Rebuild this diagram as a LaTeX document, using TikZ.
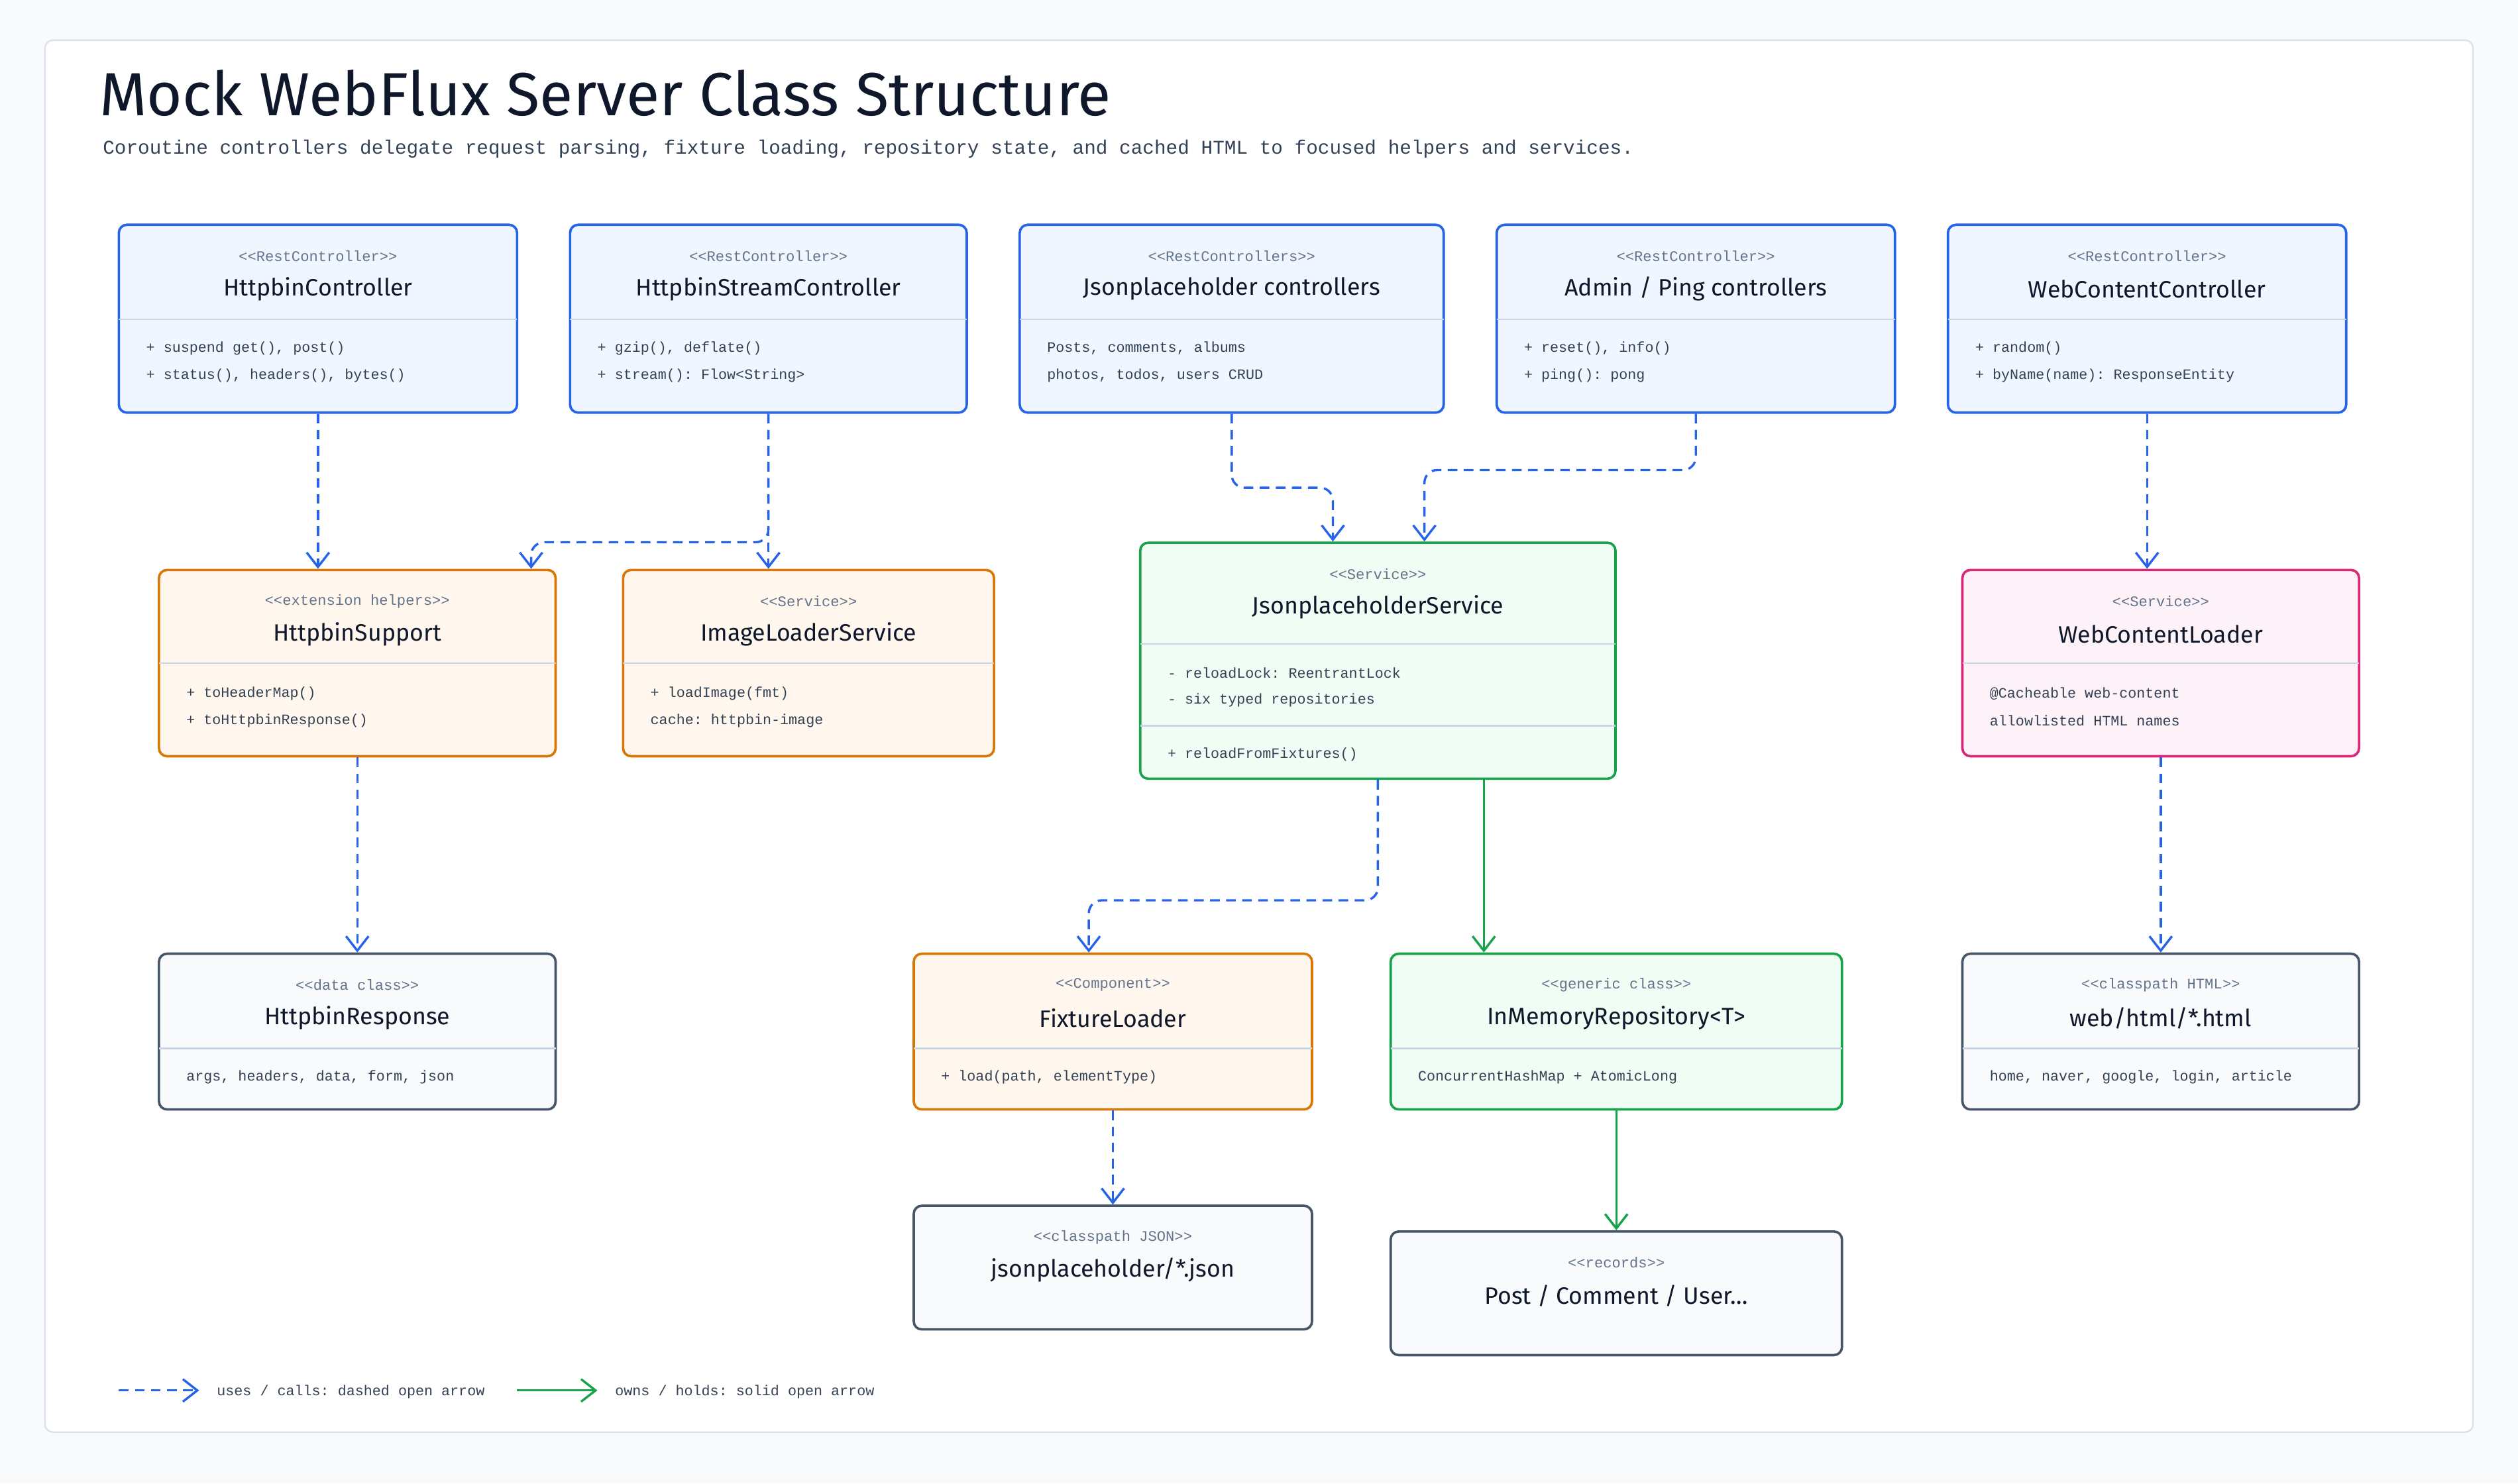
\documentclass[tikz,border=0pt]{standalone}
\usepackage{fontspec}
\setmainfont{Fira Sans}
\setmonofont{Liberation Mono}
\usetikzlibrary{arrows.meta,positioning}

\definecolor{ink}{HTML}{0F172A}
\definecolor{muted}{HTML}{64748B}
\definecolor{memb}{HTML}{334155}
\definecolor{rule}{HTML}{CBD5E1}
\definecolor{blueline}{HTML}{2563EB}\definecolor{bluefill}{HTML}{EFF6FF}
\definecolor{orangeline}{HTML}{D97706}\definecolor{orangefill}{HTML}{FFF7ED}
\definecolor{greenline}{HTML}{16A34A}\definecolor{greenfill}{HTML}{F0FDF4}
\definecolor{pinkline}{HTML}{DB2777}\definecolor{pinkfill}{HTML}{FDF2F8}
\definecolor{grayline}{HTML}{475569}\definecolor{grayfill}{HTML}{F8FAFC}

% box: id, style, x1, y1, x2, y2, stereotype, name
\newcommand\classbox[8]{%
  \node[#2, minimum width={(#5-#3)*1mm}, minimum height={(#6-#4)*1mm}]
    (#1) at ({(#3+#5)/2},{(#4+#6)/2}) {};
  \node[stereo] (#1-s) at ({(#3+#5)/2},{#4+19.5}) {#7};
  \node[cname] (#1-n) at ({(#3+#5)/2},{#4+40}) {#8};
}

\begin{document}
\begin{tikzpicture}[
    x=1mm,
    y=-1mm,
    box/.style={draw, rounded corners=5mm, line width=1.5mm, inner sep=0pt},
    bluebox/.style={box, draw=blueline, fill=bluefill},
    orangebox/.style={box, draw=orangeline, fill=orangefill},
    greenbox/.style={box, draw=greenline, fill=greenfill},
    pinkbox/.style={box, draw=pinkline, fill=pinkfill},
    graybox/.style={box, draw=grayline, fill=grayfill},
    stereo/.style={font=\ttfamily\fontsize{26}{30}\selectfont, text=muted},
    cname/.style={font=\fontsize{42}{48}\selectfont, text=ink},
    member/.style={anchor=west, inner sep=0pt, font=\ttfamily\fontsize{25.5}{30}\selectfont, text=memb},
    divider/.style={draw=rule, line width=1mm},
    uses/.style={draw=blueline, line width=1.4mm, dash pattern=on 6mm off 4mm,
      -{Straight Barb[length=9mm, width=14mm, line width=1.4mm]}, rounded corners=8mm},
    owns/.style={draw=greenline, line width=1.4mm,
      -{Straight Barb[length=9mm, width=14mm, line width=1.4mm]}}
  ]
  % Background and frame
  \fill[grayfill] (0,0) rectangle (1568,924);
  \draw[draw=rule!70, fill=white, line width=1mm, rounded corners=5mm] (28,25) rectangle (1540,892);

  % Title
  \node[anchor=west, inner sep=0pt, font=\fontsize{108}{124}\selectfont, text=ink] (title) at (62,58)
    {Mock WebFlux Server Class Structure};
  \node[anchor=west, inner sep=0pt, font=\ttfamily\fontsize{34.5}{40}\selectfont, text=memb] (subtitle) at (64,93)
    {Coroutine controllers delegate request parsing, fixture loading, repository state, and cached HTML to focused helpers and services.};

  % Controllers
  \classbox{hc}{bluebox}{74}{140}{322}{257}{<<RestController>>}{HttpbinController}
  \draw[divider] (74,199) -- (322,199);
  \node[member] (hc-m1) at (91,217) {+ suspend get(), post()};
  \node[member] (hc-m2) at (91,234) {+ status(), headers(), bytes()};

  \classbox{hsc}{bluebox}{355}{140}{602}{257}{<<RestController>>}{HttpbinStreamController}
  \draw[divider] (355,199) -- (602,199);
  \node[member] (hsc-m1) at (372,217) {+ gzip(), deflate()};
  \node[member] (hsc-m2) at (372,234) {+ stream(): Flow<String>};

  \classbox{jc}{bluebox}{635}{140}{899}{257}{<<RestControllers>>}{Jsonplaceholder controllers}
  \draw[divider] (635,199) -- (899,199);
  \node[member] (jc-m1) at (652,217) {Posts, comments, albums};
  \node[member] (jc-m2) at (652,234) {photos, todos, users CRUD};

  \classbox{ac}{bluebox}{932}{140}{1180}{257}{<<RestController>>}{Admin / Ping controllers}
  \draw[divider] (932,199) -- (1180,199);
  \node[member] (ac-m1) at (949,217) {+ reset(), info()};
  \node[member] (ac-m2) at (949,234) {+ ping(): pong};

  \classbox{wcc}{bluebox}{1213}{140}{1461}{257}{<<RestController>>}{WebContentController}
  \draw[divider] (1213,199) -- (1461,199);
  \node[member] (wcc-m1) at (1230,217) {+ random()};
  \node[member] (wcc-m2) at (1230,234) {+ byName(name): ResponseEntity};

  % Helpers and services
  \classbox{hs}{orangebox}{99}{355}{346}{471}{<<extension helpers>>}{HttpbinSupport}
  \draw[divider] (99,413) -- (346,413);
  \node[member] (hs-m1) at (116,432) {+ toHeaderMap()};
  \node[member] (hs-m2) at (116,449) {+ toHttpbinResponse()};

  \classbox{ils}{orangebox}{388}{355}{619}{471}{<<Service>>}{ImageLoaderService}
  \draw[divider] (388,413) -- (619,413);
  \node[member] (ils-m1) at (405,432) {+ loadImage(fmt)};
  \node[member] (ils-m2) at (405,449) {cache: httpbin-image};

  \classbox{js}{greenbox}{710}{338}{1006}{485}{<<Service>>}{JsonplaceholderService}
  \draw[divider] (710,401) -- (1006,401);
  \draw[divider] (710,452) -- (1006,452);
  \node[member] (js-m1) at (727,419) {- reloadLock: ReentrantLock};
  \node[member] (js-m2) at (727,436) {- six typed repositories};
  \node[member] (js-m3) at (727,470) {+ reloadFromFixtures()};

  \classbox{wcl}{pinkbox}{1222}{355}{1469}{471}{<<Service>>}{WebContentLoader}
  \draw[divider] (1222,413) -- (1469,413);
  \node[member] (wcl-m1) at (1239,432) {@Cacheable web-content};
  \node[member] (wcl-m2) at (1239,449) {allowlisted HTML names};

  % Data and resources
  \classbox{hr}{graybox}{99}{594}{346}{691}{<<data class>>}{HttpbinResponse}
  \draw[divider] (99,653) -- (346,653);
  \node[member] (hr-m1) at (116,671) {args, headers, data, form, json};

  \classbox{fl}{orangebox}{569}{594}{817}{691}{<<Component>>}{FixtureLoader}
  \draw[divider] (569,653) -- (817,653);
  \node[member] (fl-m1) at (586,671) {+ load(path, elementType)};

  \classbox{imr}{greenbox}{866}{594}{1147}{691}{<<generic class>>}{InMemoryRepository<T>}
  \draw[divider] (866,653) -- (1147,653);
  \node[member] (imr-m1) at (883,671) {ConcurrentHashMap + AtomicLong};

  \classbox{web}{graybox}{1222}{594}{1469}{691}{<<classpath HTML>>}{web/html/*.html}
  \draw[divider] (1222,653) -- (1469,653);
  \node[member] (web-m1) at (1239,671) {home, naver, google, login, article};

  \classbox{jf}{graybox}{569}{751}{817}{828}{<<classpath JSON>>}{jsonplaceholder/*.json}
  \classbox{rec}{graybox}{866}{767}{1147}{844}{<<records>>}{Post / Comment / User…}

  % Connectors
  \draw[uses] (hc.south) -- (hc.south |- hs.north);
  \draw[uses] (hsc.south) -- (hsc.south |- ils.north);
  \draw[uses] (hsc.south) -- ++(0,80) -| ([xshift=-16mm]hs.north east);
  \draw[uses] (jc.south) -- ++(0,46) -| ([xshift=-28mm]js.north);
  \draw[uses] (ac.south) -- ++(0,35) -| ([xshift=29mm]js.north);
  \draw[uses] (wcc.south) -- (wcc.south |- wcl.north);
  \draw[uses] (hs.south) -- (hr.north);
  \draw[uses] (wcl.south) -- (web.north);
  \draw[uses] (js.south) -- ++(0,75) -| ([xshift=-15mm]fl.north);
  \draw[owns] ([xshift=66mm]js.south) -- ([xshift=66mm]js.south |- imr.north);
  \draw[uses] (fl.south) -- (jf.north);
  \draw[owns] (imr.south) -- (rec.north);

  % Legend
  \coordinate (lg-u1) at (74,866);
  \coordinate (lg-u2) at (124,866);
  \coordinate (lg-o1) at (322,866);
  \coordinate (lg-o2) at (372,866);
  \draw[uses] (lg-u1) -- (lg-u2);
  \draw[owns] (lg-o1) -- (lg-o2);
  \node[member] (lg-ut) at (135,867) {uses / calls: dashed open arrow};
  \node[member] (lg-ot) at (383,867) {owns / holds: solid open arrow};
\end{tikzpicture}
\end{document}
